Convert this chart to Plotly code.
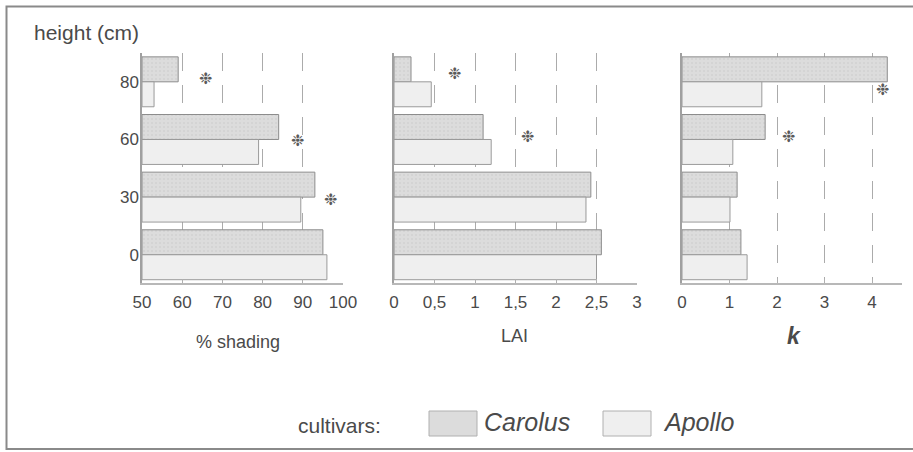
import plotly.graph_objects as go

# Measurement heights (cm), bottom to top
heights = ["0", "30", "60", "80"]

# % shading per height
shading_carolus = [95, 93, 84, 59]
shading_apollo = [96, 89.5, 79, 53]

# Leaf area index per height
lai_carolus = [2.56, 2.43, 1.10, 0.21]
lai_apollo = [2.50, 2.37, 1.20, 0.46]

# Extinction coefficient k per height
k_carolus = [1.24, 1.16, 1.75, 4.32]
k_apollo = [1.37, 1.01, 1.07, 1.68]

# Significant differences: (panel, x value, height position)
signif = [
    (1, 65.7, 3.05), (1, 88.6, 1.99), (1, 96.8, 0.95),
    (2, 0.75, 3.14), (2, 1.65, 2.05),
    (3, 4.21, 2.86), (3, 2.25, 2.05),
]

W, H = 913, 452
pos = list(range(len(heights)))
BAR_W = 0.433

CAROLUS_FILL = "#dcdcdc"
APOLLO_FILL = "#efefef"
NARROW = "Liberation Sans Narrow, Liberation Sans, Arial, sans-serif"
SANS = "Liberation Sans, Arial, Helvetica, sans-serif"
TXT = "#4a4a4a"


def px_x(p):
    return p / W


def px_y(p):
    return 1 - p / H


panels = [
    # (values carolus, values apollo, base, domain px, range, ticks, ticktext)
    (shading_carolus, shading_apollo, 50, (142, 343), [50, 100],
     [50, 60, 70, 80, 90, 100], ["50", "60", "70", "80", "90", "100"]),
    (lai_carolus, lai_apollo, 0, (394, 637), [0, 3],
     [0, 0.5, 1, 1.5, 2, 2.5, 3], ["0", "0,5", "1", "1,5", "2", "2,5", "3"]),
    (k_carolus, k_apollo, 0, (682, 902), [0, 4.63],
     [0, 1, 2, 3, 4], ["0", "1", "2", "3", "4"]),
]

fig = go.Figure()
y_dom = [px_y(283), px_y(53)]

for i, (vc, va, base, (d0, d1), rng, tv, tt) in enumerate(panels, start=1):
    xs = "x" if i == 1 else f"x{i}"
    ys = "y" if i == 1 else f"y{i}"
    fig.add_trace(go.Bar(
        orientation="h", y=pos, x=[v - base for v in vc], base=base,
        width=BAR_W, offset=0, xaxis=xs, yaxis=ys, name="Carolus",
        marker=dict(color=CAROLUS_FILL, line=dict(color="#8c8c8c", width=1),
                    pattern=dict(shape=".", fgcolor="#d2d2d2", bgcolor=CAROLUS_FILL,
                                 size=4, solidity=0.2)),
        showlegend=False,
    ))
    fig.add_trace(go.Bar(
        orientation="h", y=pos, x=[v - base for v in va], base=base,
        width=BAR_W, offset=-BAR_W, xaxis=xs, yaxis=ys, name="Apollo",
        marker=dict(color=APOLLO_FILL, line=dict(color="#9a9a9a", width=1)),
        showlegend=False,
    ))
    xa = dict(
        domain=[px_x(d0), px_x(d1)], range=rng, anchor=ys, automargin=False,
        tickvals=tv, ticktext=tt, ticks="inside", ticklen=4, tickcolor="#b0b0b0",
        showline=True, linecolor="#b8b8b8", linewidth=1.5,
        showgrid=True, gridcolor="#ababab", gridwidth=1.2, griddash="18px,14px",
        zeroline=False, tickfont=dict(family=NARROW, size=17, color=TXT),
        ticklabelstandoff=3, fixedrange=True,
    )
    ya = dict(
        domain=y_dom, range=[-0.49, 3.5], anchor=xs, automargin=False,
        showline=True, linecolor="#a0a0a0", linewidth=1.5,
        showgrid=False, zeroline=False, fixedrange=True,
        tickvals=pos, ticktext=heights if i == 1 else [""] * len(pos),
        showticklabels=(i == 1), ticks="",
        tickfont=dict(family=NARROW, size=17, color=TXT),
    )
    if i == 1:
        ya["ticklabelstandoff"] = -2
    fig.update_layout({("xaxis" if i == 1 else f"xaxis{i}"): xa,
                       ("yaxis" if i == 1 else f"yaxis{i}"): ya})

annotations = []
for panel, xv, yv in signif:
    annotations.append(dict(
        x=xv, y=yv, xref="x" if panel == 1 else f"x{panel}",
        yref="y" if panel == 1 else f"y{panel}",
        text="❉", showarrow=False, xanchor="center", yanchor="middle",
        font=dict(family="DejaVu Sans", size=16, color="#5a5a5a"),
    ))


def label(xp, yp, text, family, size, xanchor="center"):
    return dict(x=px_x(xp), y=px_y(yp), xref="paper", yref="paper", text=text,
                xanchor=xanchor, yanchor="middle", showarrow=False,
                font=dict(family=family, size=size, color=TXT))


# Axis titles, y-axis caption and legend text
annotations += [
    label(238, 342, "% shading", NARROW, 18),
    label(514, 336, "LAI", NARROW, 18),
    label(794, 336, "<b><i>k</i></b>", SANS, 23),
    label(32, 33, "height (cm)", SANS, 21, "left"),
    label(296, 425, "cultivars:", SANS, 21, "left"),
    label(482, 422, "<i>Carolus</i>", SANS, 25, "left"),
    label(661, 422, "<i>Apollo</i>", SANS, 25, "left"),
]

shapes = [
    # outer frame
    dict(type="rect", xref="paper", yref="paper",
         x0=px_x(6.5), x1=px_x(930), y0=px_y(449), y1=px_y(6.5),
         line=dict(color="#8a8a8a", width=2), fillcolor="rgba(0,0,0,0)"),
    # legend swatches
    dict(type="rect", xref="paper", yref="paper",
         x0=px_x(429), x1=px_x(477), y0=px_y(436), y1=px_y(411),
         line=dict(color="#b0b0b0", width=1), fillcolor=CAROLUS_FILL),
    dict(type="rect", xref="paper", yref="paper",
         x0=px_x(603), x1=px_x(651), y0=px_y(436), y1=px_y(411),
         line=dict(color="#b0b0b0", width=1), fillcolor=APOLLO_FILL),
]

fig.update_layout(
    template="none",
    width=W, height=H, margin=dict(l=0, r=0, t=0, b=0, pad=0, autoexpand=False),
    paper_bgcolor="white", plot_bgcolor="white",
    barmode="overlay", annotations=annotations, shapes=shapes,
    showlegend=False,
)

fig.write_html("out.html")
